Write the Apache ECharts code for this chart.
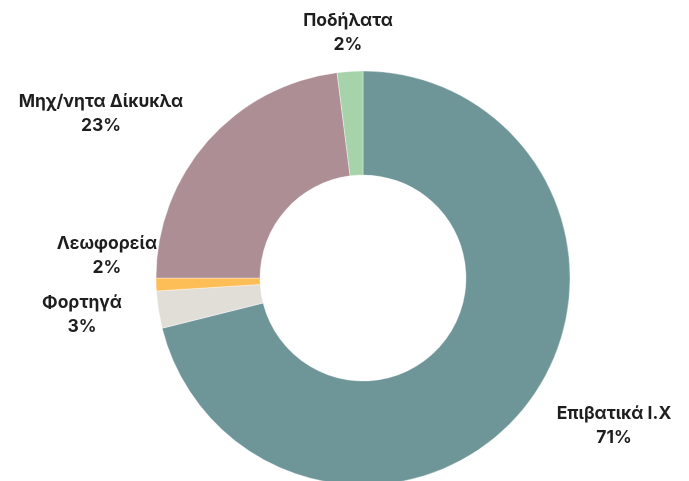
<!DOCTYPE html>
<html>
<head>
<meta charset="utf-8">
<script src="https://cdn.jsdelivr.net/npm/echarts@6/dist/echarts.min.js"></script>
<style>
  html, body { margin: 0; padding: 0; background: #fff; }
  #chart { width: 689px; height: 481px; }
</style>
</head>
<body>
<div id="chart"></div>
<script>
// categories and shares (%)
var categories = ["Επιβατικά Ι.Χ", "Φορτηγά", "Λεωφορεία", "Μηχ/νητα Δίκυκλα", "Ποδήλατα"]
var shares = [71.1, 2.9, 1.0, 23.0, 2.0]
var shareLabels = ["71%", "3%", "2%", "23%", "2%"]

var colors = ["#6e9597", "#e1ded8", "#fdbe58", "#ad8e95", "#a7d3aa"]
// where each label block is centred (px)
var labelAnchors = [[614, 426], [82, 315], [107, 256], [101, 114], [348, 33]]

var myChart = echarts.init(document.getElementById("chart"))

var txt = { fontFamily: "Inter", fontSize: 17.5, fontWeight: "bold", color: "#1e1e1e", align: "center", lineHeight: 24 }

myChart.setOption({
  animation: false,
  color: colors,
  series: [{
    type: "pie",
    center: [363, 278],
    radius: [103, 207],
    startAngle: 90,
    itemStyle: { borderColor: "rgba(255,255,255,0.6)", borderWidth: 0.6 },
    label: {
      show: true,
      position: "outside",
      overflow: "none",
      formatter: function (p) {
        return "{n|" + p.name + "}\n{p|" + shareLabels[p.dataIndex] + "}"
      },
      rich: { n: txt, p: txt }
    },
    labelLine: { show: false },
    labelLayout: function (p) {
      var a = labelAnchors[p.dataIndex]
      return { x: a[0], y: a[1], align: "center", verticalAlign: "middle" }
    },
    data: categories.map(function (c, i) { return { name: c, value: shares[i] } })
  }]
})
</script>
</body>
</html>
